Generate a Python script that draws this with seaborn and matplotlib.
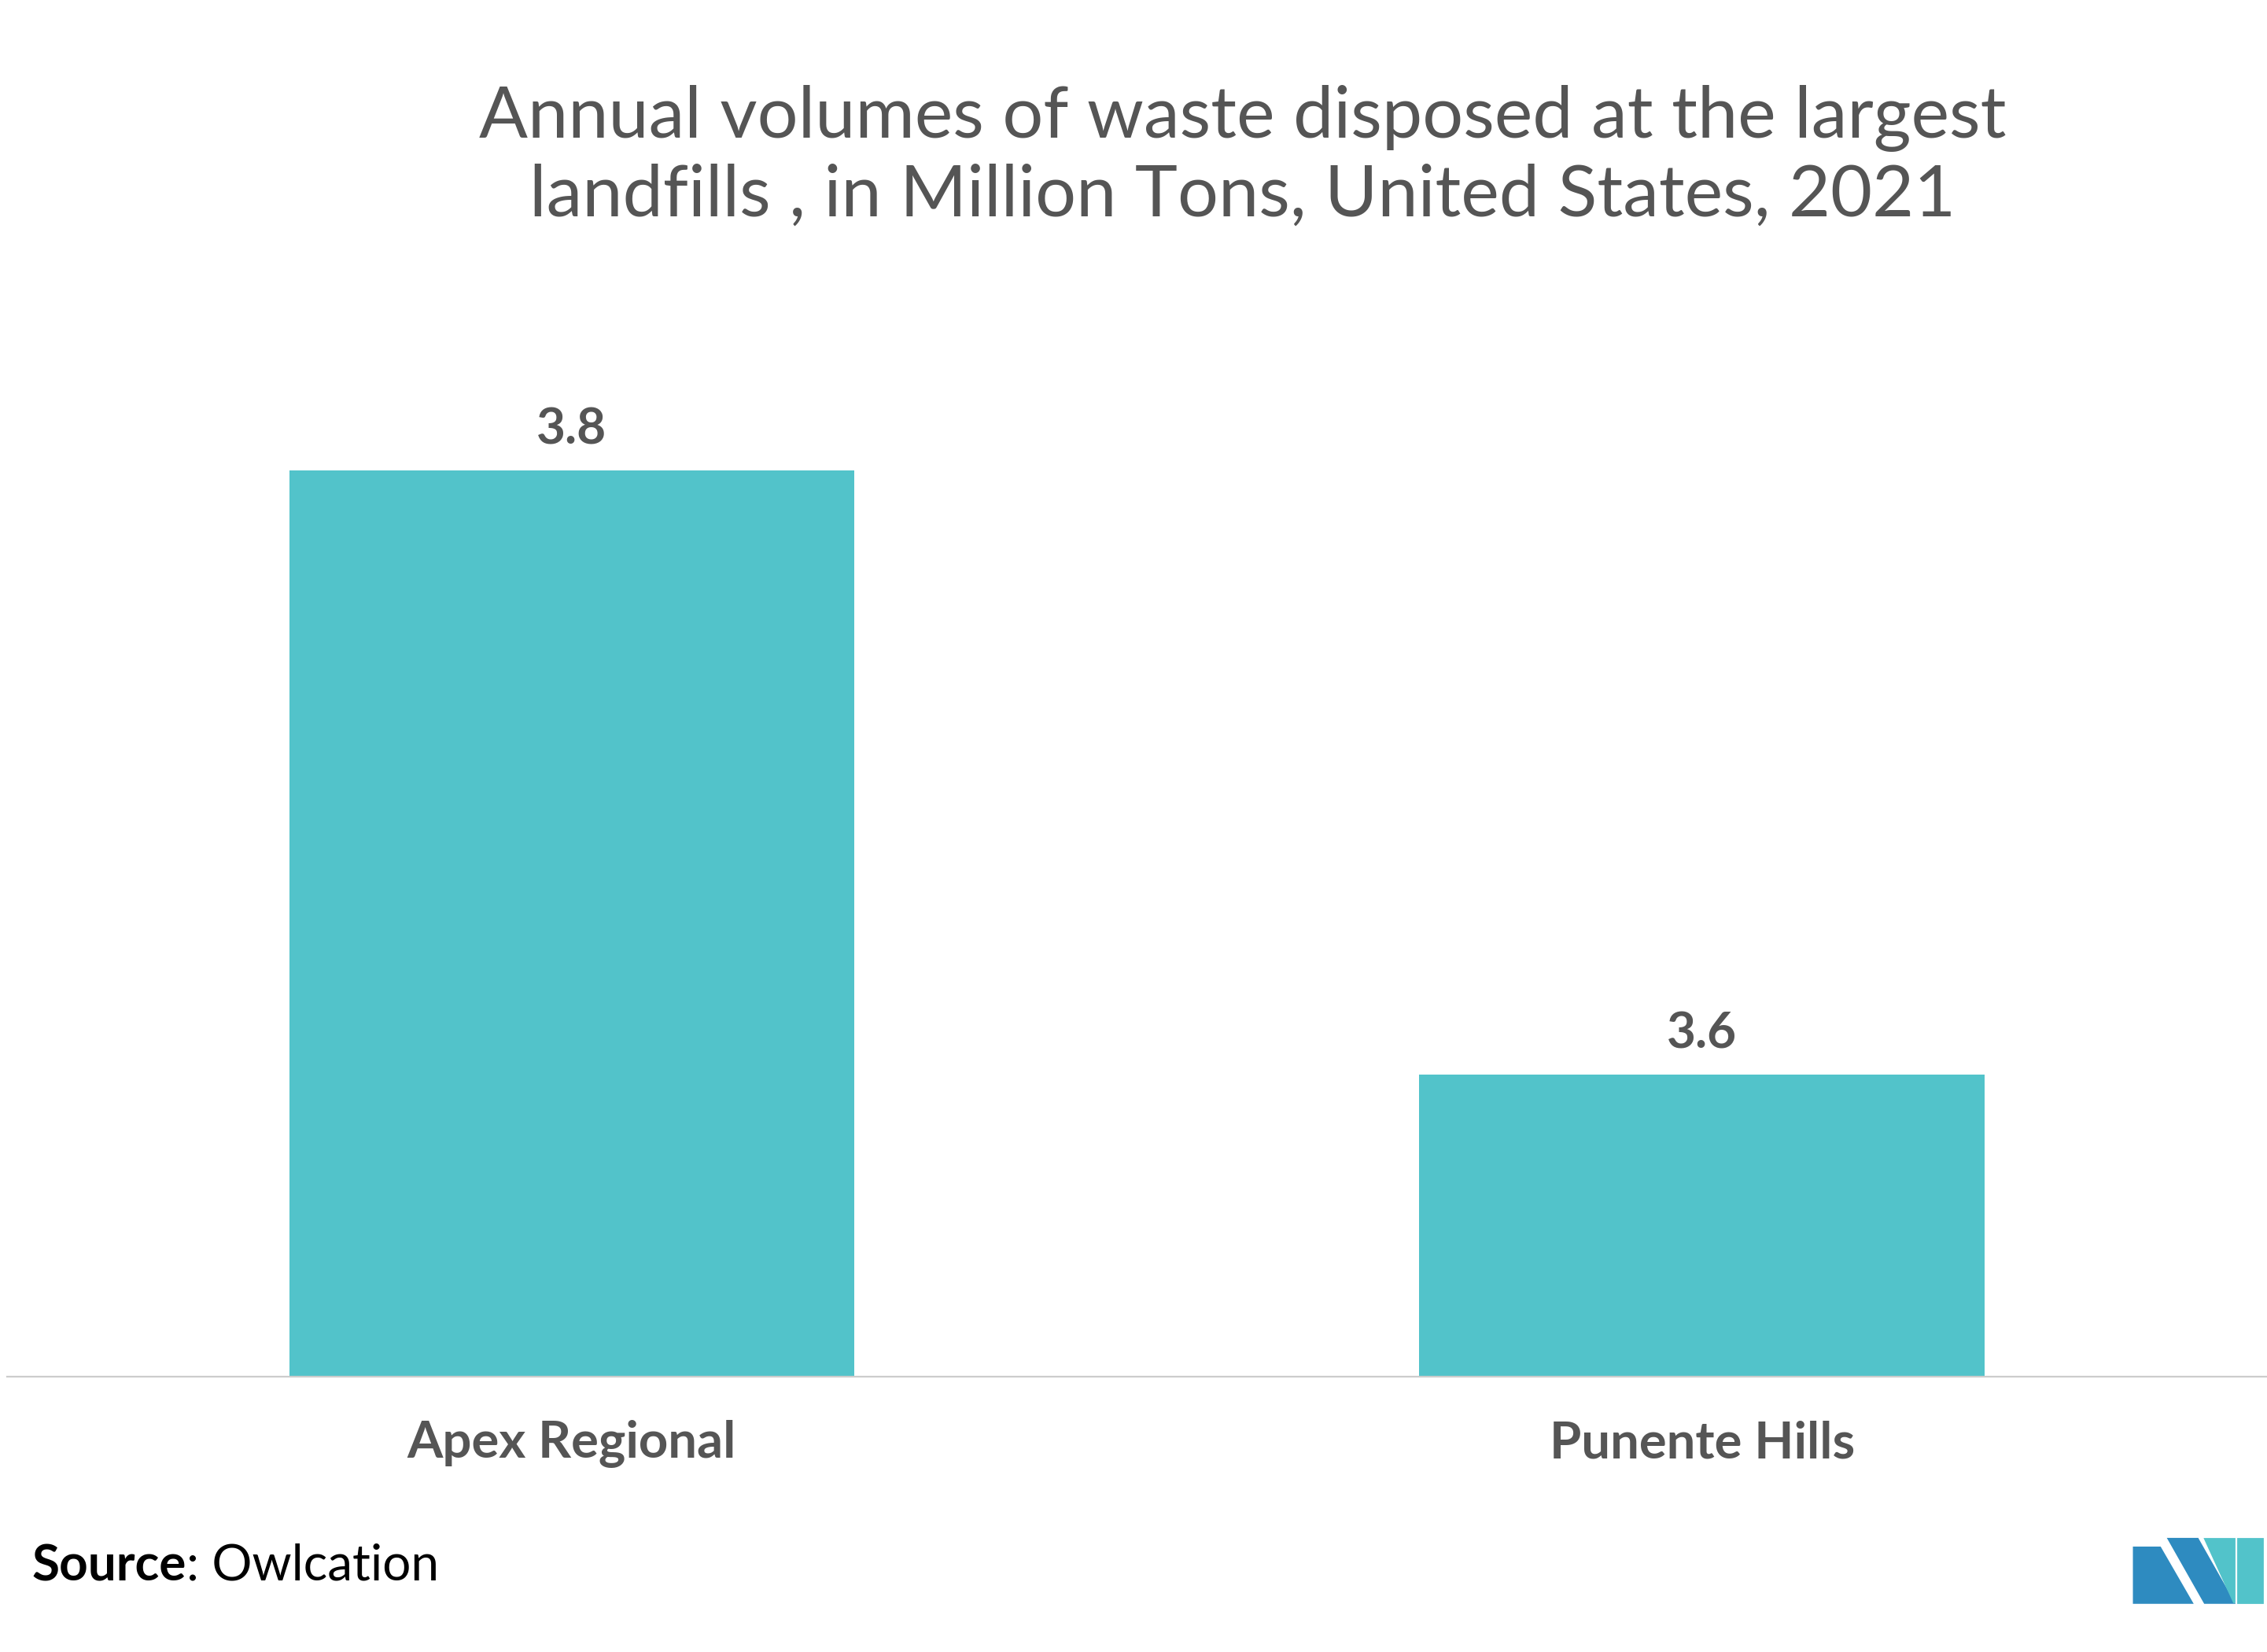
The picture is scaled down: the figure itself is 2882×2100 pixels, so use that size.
import matplotlib
matplotlib.use("Agg")
import matplotlib.pyplot as plt
import seaborn as sns
import pandas as pd
from matplotlib.patches import Polygon

categories = ["Apex Regional", "Punente Hills"]
values = [3.8, 3.6]
value_labels = ["3.8", "3.6"]

df = pd.DataFrame({"site": categories, "value": values})
gray = "#555555"
fig = plt.figure(figsize=(14.41, 10.5), dpi=200)
ax = fig.add_axes([0.003, 0.1667, 0.997, 0.62])
sns.barplot(data=df, x="site", y="value", color="#52C3CA", width=0.5, saturation=1, ax=ax)
ax.set_ylim(3.5, 3.839)
ax.set_xlim(-0.5, 1.5)
for i, (v, t) in enumerate(zip(values, value_labels)):
    ax.text(i, v + 0.006, t, ha="center", va="bottom", fontsize=23, fontweight="bold", color=gray, family="Lato")
for s in ["top", "right", "left"]:
    ax.spines[s].set_visible(False)
ax.spines["bottom"].set_color("#cccccc")
ax.set_yticks([])
ax.set_xlabel(""); ax.set_ylabel("")
ax.tick_params(axis="x", length=0, pad=20)
for lab in ax.get_xticklabels():
    lab.set_fontsize(23.5); lab.set_fontweight("bold"); lab.set_color(gray); lab.set_family("Lato")
fig.text(0.548, 0.905, "Annual volumes of waste disposed at the largest\nlandfills , in Million Tons, United States, 2021",
         ha="center", va="center", fontsize=33, color=gray, family="Lato", linespacing=1.22)
t1 = fig.text(0.014, 0.052, "Source", fontsize=23, color="black", family="Lato", fontweight="bold", va="center")
fig.canvas.draw()
bb = t1.get_window_extent().transformed(fig.transFigure.inverted())
fig.text(bb.x1, 0.052, ": Owlcation", fontsize=23, color="black", family="Lato", va="center")
# logo
def P(pts, c):
    fig.patches.append(Polygon([(x / 1568, 1 - y / 1140) for x, y in pts], closed=True, transform=fig.transFigure, color=c))
P([(1476, 1106), (1476, 1068), (1494, 1068), (1516, 1106)], "#2E8BC0")
P([(1500, 1062), (1520, 1062), (1545, 1106), (1525, 1106)], "#2E8BC0")
P([(1525, 1062), (1545, 1062), (1545, 1106)], "#52C3CA")
P([(1548, 1062), (1565, 1062), (1565, 1106), (1548, 1106)], "#52C3CA")
fig.savefig("out.png", dpi=200)
